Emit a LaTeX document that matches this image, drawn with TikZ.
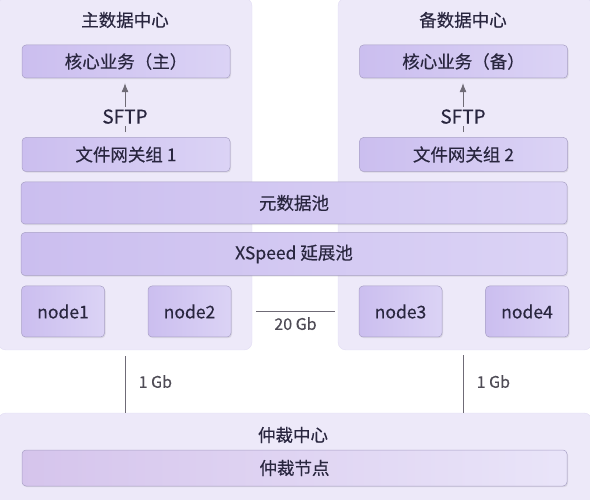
\documentclass[tikz,border=0pt]{standalone}
\usepackage{fontspec}
\setmainfont{Noto Sans CJK SC}[FakeBold=0.35]
\usepackage{tikz}
\usetikzlibrary{arrows.meta}
\usetikzlibrary{positioning}
\usetikzlibrary{shadows}
\definecolor{panelfill}{HTML}{EDE9F9}
\definecolor{panelline}{HTML}{E2DDF4}
\definecolor{barleft}{HTML}{CBBEEF}
\definecolor{barright}{HTML}{DBD3F5}
\definecolor{barline}{HTML}{A9A1C6}
\definecolor{txt}{HTML}{29263F}
\definecolor{linegray}{HTML}{6F6B76}
\definecolor{rategray}{HTML}{4F4C56}
\tikzstyle{panel} = [draw=panelline,fill=panelfill,rounded corners=8pt,inner sep=0pt]
\tikzstyle{bar} = [draw=barline,line width=0.5pt,left color=barleft,right color=barright,rounded corners=4pt,text=txt,inner sep=0pt,
  drop shadow={shadow xshift=1pt,shadow yshift=-1.2pt,opacity=0.18}]
\tikzstyle{srv} = [bar,minimum width=83pt,minimum height=51pt]
\tikzstyle{title} = [text=txt,inner sep=1pt]
\tikzstyle{arrow} = [-{Latex[length=9pt,width=7pt]},draw=linegray,line width=0.7pt]
\tikzstyle{link} = [draw=linegray,line width=0.6pt]
\tikzstyle{rate} = [text=rategray,font=\fontsize{16}{18}\selectfont]

\begin{document}
\begin{tikzpicture}[x=1pt,y=-1pt,font=\fontsize{17.5}{20}\selectfont]
\useasboundingbox (0,0) rectangle (590,500);
% data centres
\node[panel,minimum width=254pt,minimum height=352pt] (leftdc) at (125,174) {};
\node[panel,minimum width=254pt,minimum height=352pt] (rightdc) at (465,174) {};
\node[panel,minimum width=594pt,minimum height=92pt] (arbdc) at (295,459) {};

\node[title] (t1) at (125,20) {主数据中心};
\node[title] (t2) at (463,20) {备数据中心};

\node[bar,minimum width=208pt,minimum height=33pt] (core1) at (126,61.5) {核心业务（主）};
\node[bar,minimum width=208pt,minimum height=34pt,below=59pt of core1] (gw1) {文件网关组 1};
\node[bar,minimum width=208pt,minimum height=33pt] (core2) at (463.5,61.5) {核心业务（备）};
\node[bar,minimum width=208pt,minimum height=34pt,below=59pt of core2] (gw2) {文件网关组 2};

\draw[arrow,shorten <=5pt,shorten >=5pt] (gw1.north -| t1) -- node[pos=0.35,fill=panelfill,text=txt,inner sep=2pt,font=\fontsize{19}{20}\selectfont] {SFTP} (core1.south -| t1);
\draw[arrow,shorten <=5pt,shorten >=5pt] (gw2.north -| t2) -- node[pos=0.35,fill=panelfill,text=txt,inner sep=2pt,font=\fontsize{19}{20}\selectfont] {SFTP} (core2.south -| t2);

% pools
\node[bar,minimum width=546pt,minimum height=42pt] (meta) at (294,203) {元数据池};
\node[bar,minimum width=546pt,minimum height=43pt,below=8pt of meta] (xspeed) {XSpeed 延展池};

% nodes
\node[srv] (node1) at (63,311.5) {node1};
\node[srv,right=43pt of node1] (node2) {node2};
\node[srv] (node3) at (400.5,311.5) {node3};
\node[srv,right=43pt of node3] (node4) {node4};

\draw[link] ([xshift=4pt]node2.east -| leftdc.east) -- node[rate,below=2pt] {20 Gb} ([xshift=-3pt]node3.west -| rightdc.west);

% arbitration
\node[title] (arbt) at (293,435) {仲裁中心};
\node[bar,minimum width=545pt,minimum height=36pt,left color=barleft!90!violet!70,right color=barright!60!white] (arbnode) at (294.5,468) {仲裁节点};

\draw[link,shorten <=6pt] (leftdc.south -| t1) -- node[rate,right=10pt] {1 Gb} (arbdc.north -| t1);
\draw[link,shorten <=5pt] (rightdc.south -| t2) -- node[rate,right=10pt] {1 Gb} (arbdc.north -| t2);
\end{tikzpicture}
\end{document}
